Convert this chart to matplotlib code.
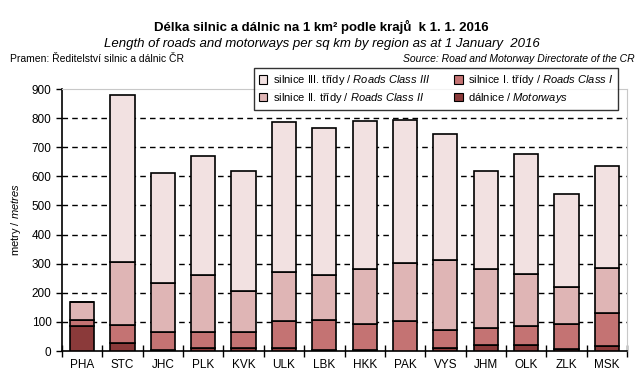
import numpy as np
import matplotlib
matplotlib.use('Agg')
import matplotlib.pyplot as plt

plt.rcParams['font.family'] = ['Liberation Sans', 'DejaVu Sans']
plt.rcParams['mathtext.fontset'] = 'custom'
plt.rcParams['mathtext.rm'] = 'Liberation Sans'
plt.rcParams['mathtext.it'] = 'Liberation Sans:italic'

kraje = ['PHA', 'STC', 'JHC', 'PLK', 'KVK', 'ULK', 'LBK', 'HKK',
         'PAK', 'VYS', 'JHM', 'OLK', 'ZLK', 'MSK']
dalnice = [87, 27, 4, 10, 10, 10, 2, 2, 1, 10, 20, 20, 6, 16]
tridy_1 = [20, 62, 61, 55, 54, 92, 103, 90, 101, 61, 58, 65, 86, 114]
tridy_2 = [62, 217, 167, 197, 143, 169, 157, 190, 201, 241, 204, 179, 129, 154]
tridy_3 = [1, 573, 379, 407, 412, 516, 504, 508, 490, 433, 336, 412, 317, 351]

barvy = ['#8B3A3A', '#C47373', '#DFB5B5', '#F2E1E1']

fig = plt.figure(figsize=(6.43, 3.91), dpi=100)
ax = fig.add_axes([62 / 643, 1 - 351 / 391, (627 - 62) / 643, (351 - 89) / 391])

x = np.arange(len(kraje))
w = 0.6
bottom = np.zeros(len(kraje))
serie = [dalnice, tridy_1, tridy_2, tridy_3]
bars = []
for vals, c in zip(serie, barvy):
    b = ax.bar(x, vals, w, bottom=bottom, color=c, edgecolor='black', linewidth=1.2, zorder=3)
    bars.append(b)
    bottom += np.array(vals)

ax.set_xlim(-0.5, len(kraje) - 0.5)
ax.set_ylim(0, 900)
ax.set_yticks(np.arange(0, 901, 100))
ax.set_xticks(x)
ax.set_xticklabels(kraje, fontsize=8.5)
ax.tick_params(axis='x', length=0, pad=6)
ax.tick_params(axis='y', labelsize=8.5, direction='out', length=4, width=1)
ax.set_xticks(np.arange(-0.5, len(kraje), 1), minor=True)
ax.tick_params(axis='x', which='minor', direction='inout', length=8, width=1)

for yv in range(100, 900, 100):
    ax.axhline(yv, color='black', linestyle=(0, (4, 3)), linewidth=1, zorder=1)

ax.spines['top'].set_color('#C8C8C8')
ax.spines['right'].set_color('#C8C8C8')
ax.spines['left'].set_linewidth(1.2)
ax.spines['bottom'].set_linewidth(1.2)

ax.set_ylabel('metry / $\\it{metres}$', fontsize=8, labelpad=6)

handles = [bars[3], bars[2], bars[1], bars[0]]
labels = ['silnice III. třídy / $\\it{Roads\\ Class\\ III}$',
          'silnice II. třídy / $\\it{Roads\\ Class\\ II}$',
          'silnice I. třídy / $\\it{Roads\\ Class\\ I}$',
          'dálnice / $\\it{Motorways}$']
leg = fig.legend(handles, labels, ncol=2, fontsize=8, loc='upper left',
                 bbox_to_anchor=(248 / 643, 1 - 63 / 391, 376 / 643, 0.001), mode='expand',
                 frameon=True, fancybox=False,
                 edgecolor='black', handlelength=0.8, handleheight=0.8,
                 columnspacing=1.0, borderpad=0.45, labelspacing=0.35, handletextpad=0.5)
leg.get_frame().set_linewidth(1)
for h in leg.legend_handles:
    h.set_linewidth(0.8)

fig.text(0.5, 1 - 27 / 391, 'Délka silnic a dálnic na 1 km² podle krajů  k 1. 1. 2016',
         ha='center', va='center', fontsize=9.5, fontweight='bold')
fig.text(0.5, 1 - 44 / 391, 'Length of roads and motorways per sq km by region as at 1 January  2016',
         ha='center', va='center', fontsize=9.5, style='italic')
fig.text(10 / 643, 1 - 59 / 391, 'Pramen: Ředitelství silnic a dálnic ČR',
         ha='left', va='center', fontsize=7.5,
         family=['Liberation Sans Narrow', 'Liberation Sans'])
fig.text(1 - 8 / 643, 1 - 59 / 391, 'Source: Road and Motorway Directorate of the CR',
         ha='right', va='center', fontsize=7.5, style='italic',
         family=['Liberation Sans Narrow', 'Liberation Sans'])

fig.savefig('out.png', dpi=100)
